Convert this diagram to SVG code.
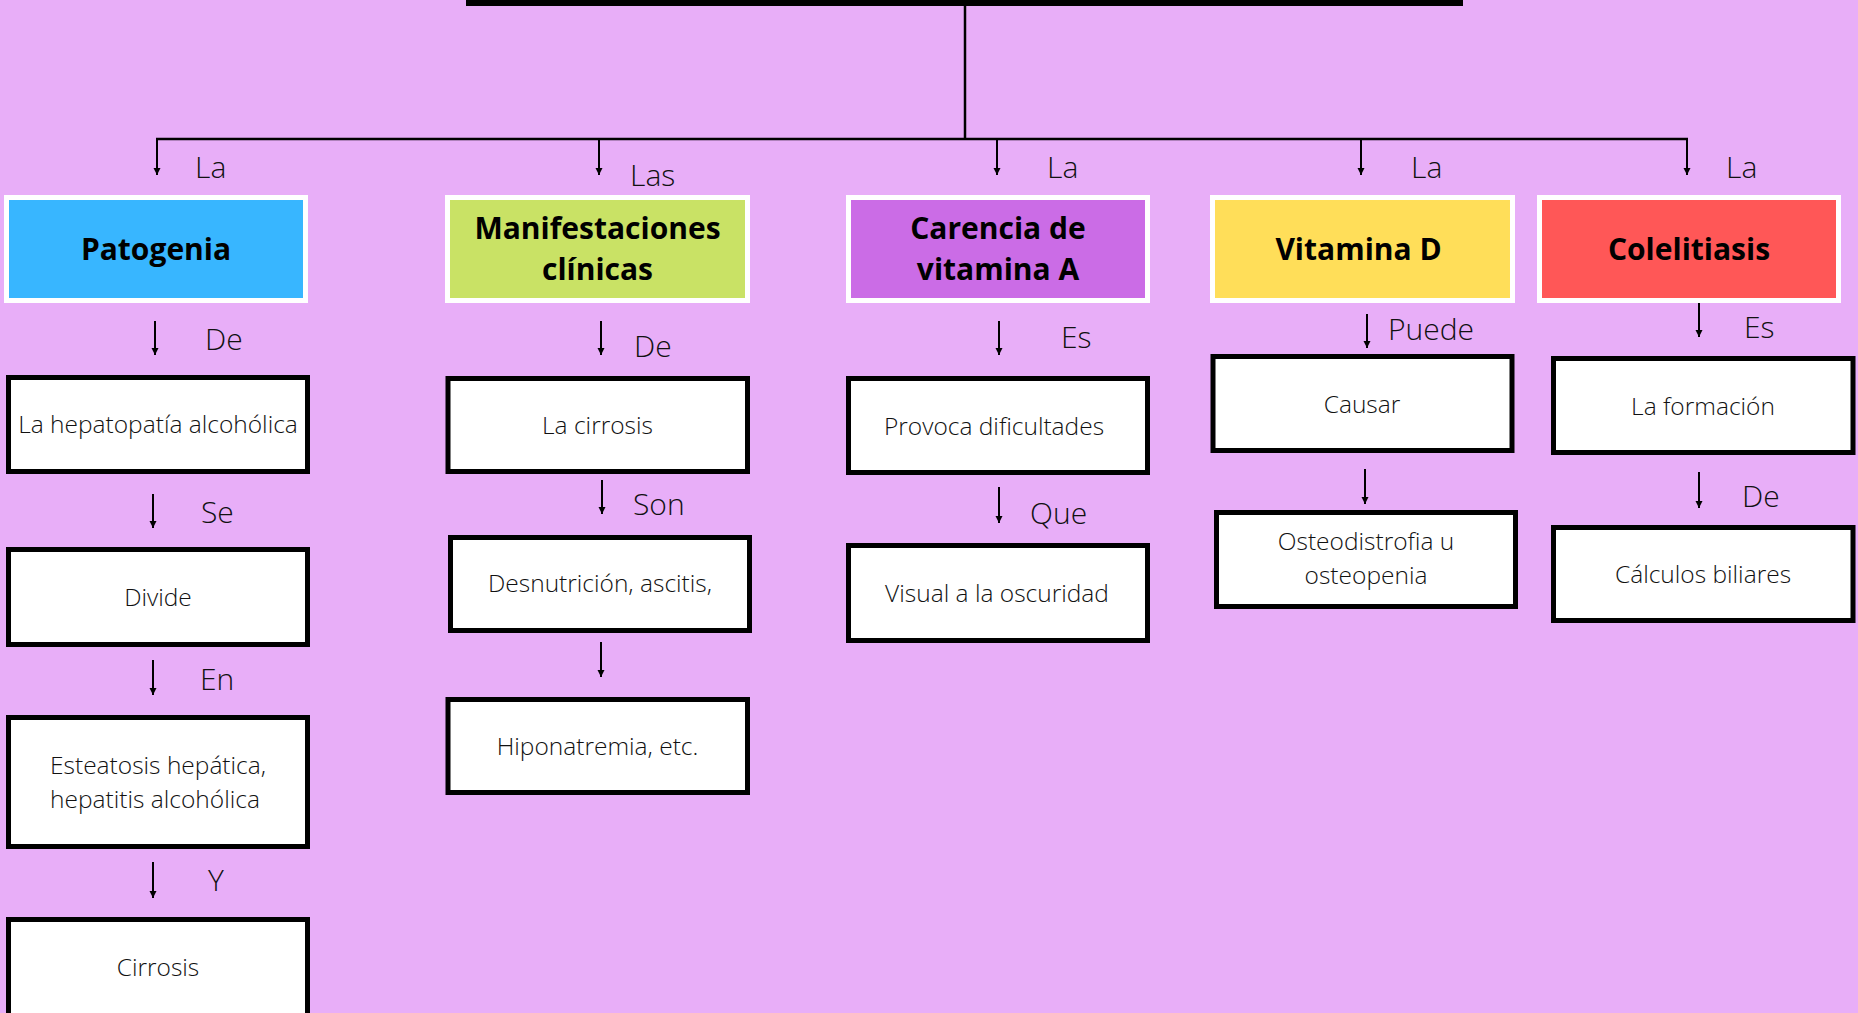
<svg xmlns="http://www.w3.org/2000/svg" width="1858" height="1013" viewBox="0 0 1858 1013">
<defs>
<marker id="ah" viewBox="0 0 10 10" refX="10" refY="5" markerWidth="7" markerHeight="8" markerUnits="userSpaceOnUse" orient="auto">
<path d="M0,0 L10,5 L0,10 z" fill="#000"/>
</marker>
<style>
.hd{stroke:#fff;stroke-width:5}
.bx{fill:#fff;stroke:#000;stroke-width:5}
.ht{font-family:"Open Sans","Liberation Sans",sans-serif;font-weight:700;font-size:30px;fill:#000;text-anchor:middle}
.bt{font-family:"Open Sans","Liberation Sans",sans-serif;font-weight:300;font-size:24.5px;fill:#111;text-anchor:middle}
.lb{font-family:"Open Sans","Liberation Sans",sans-serif;font-weight:300;font-size:30px;fill:#111}
.ar{stroke:#000;stroke-width:2;fill:none;marker-end:url(#ah)}
.ln{stroke:#000;stroke-width:2.5;fill:none}
</style>
</defs>
<rect width="1858" height="1013" fill="#E8AEF8"/>
<rect id="title-bar" x="466" y="0" width="997" height="6" fill="#000"/>

<g id="connectors">
<line class="ln" x1="965" y1="6" x2="965" y2="139"/>
<line class="ln" x1="156" y1="139" x2="1688" y2="139"/>
<line class="ar" x1="157" y1="139" x2="157" y2="175"/>
<line class="ar" x1="599" y1="139" x2="599" y2="175"/>
<line class="ar" x1="997" y1="139" x2="997" y2="175"/>
<line class="ar" x1="1361" y1="139" x2="1361" y2="175"/>
<line class="ar" x1="1687" y1="139" x2="1687" y2="175"/>
<text class="lb" x="195" y="178">La</text>
<text class="lb" x="630" y="186">Las</text>
<text class="lb" x="1047" y="178">La</text>
<text class="lb" x="1411" y="178">La</text>
<text class="lb" x="1726" y="178">La</text>

<line class="ar" x1="155" y1="321" x2="155" y2="355"/>
<text class="lb" x="205" y="350">De</text>
<line class="ar" x1="153" y1="494" x2="153" y2="528"/>
<text class="lb" x="201" y="523">Se</text>
<line class="ar" x1="153" y1="660" x2="153" y2="695"/>
<text class="lb" x="200" y="690">En</text>
<line class="ar" x1="153" y1="862" x2="153" y2="898"/>
<text class="lb" x="208" y="891">Y</text>

<line class="ar" x1="601" y1="321" x2="601" y2="355"/>
<text class="lb" x="634" y="357">De</text>
<line class="ar" x1="602" y1="480" x2="602" y2="514"/>
<text class="lb" x="633" y="515">Son</text>
<line class="ar" x1="601" y1="642" x2="601" y2="677"/>

<line class="ar" x1="999" y1="321" x2="999" y2="355"/>
<text class="lb" x="1061" y="348">Es</text>
<line class="ar" x1="999" y1="487" x2="999" y2="523"/>
<text class="lb" x="1030" y="524">Que</text>

<line class="ar" x1="1367" y1="314" x2="1367" y2="348"/>
<text class="lb" x="1388" y="340">Puede</text>
<line class="ar" x1="1365" y1="469" x2="1365" y2="504"/>

<line class="ar" x1="1699" y1="303" x2="1699" y2="337"/>
<text class="lb" x="1744" y="338">Es</text>
<line class="ar" x1="1699" y1="472" x2="1699" y2="508"/>
<text class="lb" x="1742" y="507">De</text>
</g>

<g id="patogenia">
<rect class="hd" x="6.5" y="197.5" width="299" height="103" fill="#38B6FF"/>
<text class="ht" x="156" y="260">Patogenia</text>
</g>
<g id="manifestaciones">
<rect class="hd" x="447.5" y="197.5" width="300" height="103" fill="#C9E265"/>
<text class="ht" x="597.5" y="239">Manifestaciones</text>
<text class="ht" x="597.5" y="280">clínicas</text>
</g>
<g id="carencia">
<rect class="hd" x="848.5" y="197.5" width="299" height="103" fill="#CB6CE6"/>
<text class="ht" x="998" y="239">Carencia de</text>
<text class="ht" x="998" y="280">vitamina A</text>
</g>
<g id="vitamina-d">
<rect class="hd" x="1212.5" y="197.5" width="300" height="103" fill="#FFDE59"/>
<text class="ht" x="1358.5" y="260">Vitamina D</text>
</g>
<g id="colelitiasis">
<rect class="hd" x="1539.5" y="197.5" width="299" height="103" fill="#FF5757"/>
<text class="ht" x="1689" y="260">Colelitiasis</text>
</g>

<g id="hepatopatia">
<rect class="bx" x="8.5" y="377.5" width="299" height="94"/>
<text class="bt" x="158" y="433">La hepatopatía alcohólica</text>
</g>
<g id="divide">
<rect class="bx" x="8.5" y="549.5" width="299" height="95"/>
<text class="bt" x="158" y="606">Divide</text>
</g>
<g id="esteatosis">
<rect class="bx" x="8.5" y="717.5" width="299" height="129"/>
<text class="bt" x="158" y="774">Esteatosis hepática,</text>
<text class="bt" x="155" y="808">hepatitis alcohólica</text>
</g>
<g id="cirrosis">
<rect class="bx" x="8.5" y="919.5" width="299" height="110"/>
<text class="bt" x="158" y="976">Cirrosis</text>
</g>

<g id="la-cirrosis">
<rect class="bx" x="448" y="378.5" width="299.5" height="93"/>
<text class="bt" x="597.5" y="434">La cirrosis</text>
</g>
<g id="desnutricion">
<rect class="bx" x="450.5" y="537.5" width="299" height="93"/>
<text class="bt" x="600" y="592">Desnutrición, ascitis,</text>
</g>
<g id="hiponatremia">
<rect class="bx" x="448" y="699.5" width="299.5" height="93"/>
<text class="bt" x="597.5" y="755">Hiponatremia, etc.</text>
</g>

<g id="provoca">
<rect class="bx" x="848.5" y="378.5" width="299" height="94"/>
<text class="bt" x="994" y="435">Provoca dificultades</text>
</g>
<g id="visual">
<rect class="bx" x="848.5" y="545.5" width="299" height="95"/>
<text class="bt" x="997" y="602">Visual a la oscuridad</text>
</g>

<g id="causar">
<rect class="bx" x="1213" y="356.5" width="299" height="94"/>
<text class="bt" x="1362" y="413">Causar</text>
</g>
<g id="osteodistrofia">
<rect class="bx" x="1216.5" y="512.5" width="299" height="94"/>
<text class="bt" x="1366" y="550">Osteodistrofia u</text>
<text class="bt" x="1366" y="584">osteopenia</text>
</g>

<g id="formacion">
<rect class="bx" x="1553.5" y="358.5" width="299.5" height="94"/>
<text class="bt" x="1703" y="415">La formación</text>
</g>
<g id="calculos">
<rect class="bx" x="1553.5" y="527.5" width="299.5" height="93"/>
<text class="bt" x="1703" y="583">Cálculos biliares</text>
</g>
</svg>
